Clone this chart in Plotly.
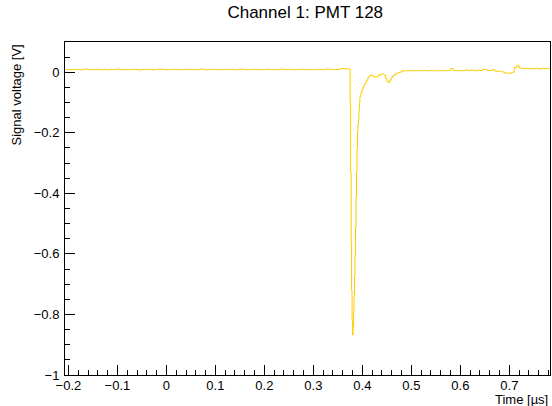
import numpy as np
import plotly.graph_objects as go

# ---- data (mV values) ----
pre_t0, pre_dt = -0.205, 0.005          # pre-pulse sampling grid (µs)
pre_mv = [8, 9, 8, 10, 9, 9, 8, 9, 11, 9, 8, 9, 9, 10, 8, 9, 9, 8, 10, 9,
          9, 11, 8, 9, 9, 8, 9, 10, 9, 9, 7, 9, 9, 10, 9, 8, 9, 9, 11, 9,
          9, 8, 9, 9, 10, 9, 9, 8, 9, 9, 10, 8, 9, 9, 9, 11, 9, 8, 9, 9,
          10, 9, 9, 8, 9, 9, 9, 10, 9, 8, 9, 11, 9, 9, 8, 9, 10, 9, 9, 9,
          8, 9, 10, 9, 9, 8, 9, 9, 11, 9, 9, 10, 9, 8, 9, 9, 10, 9, 9, 9,
          8, 9, 9, 10, 9, 9, 11, 10, 10, 9, 9, 10, 12, 11, 12, 11]

pulse_t = [0.372, 0.374, 0.375, 0.376, 0.377, 0.378, 0.379, 0.380, 0.381, 0.382,
           0.383, 0.384, 0.385, 0.386, 0.387, 0.388, 0.389, 0.390, 0.391, 0.392,
           0.393, 0.394, 0.395, 0.397, 0.399, 0.401, 0.403, 0.405, 0.408, 0.411,
           0.414, 0.417, 0.420, 0.423, 0.426, 0.429, 0.432, 0.435, 0.438, 0.441,
           0.444, 0.447, 0.450, 0.453, 0.456, 0.459, 0.462, 0.466, 0.470, 0.474,
           0.478, 0.482]
pulse_mv = [11, 11, -100, -330, -560, -720, -820, -868, -840, -790,
            -740, -670, -604, -510, -415, -330, -255, -195, -172, -155,
            -125, -100, -80, -68, -58, -50, -44, -37, -27, -18,
            -11, -9, -12, -15, -16, -15, -11, -7, -6, -6,
            -9, -20, -30, -34, -26, -17, -11, -6, -3, -1,
            2, 5]

post_t0, post_dt = 0.485, 0.005         # post-pulse sampling grid (µs)
post_mv = [5, 5, 6, 5, 5, 6, 5, 5, 6, 5, 5, 6, 5, 5, 5, 6, 5, 5, 6, 12,
           6, 5, 6, 5, 6, 8, 6, 7, 6, 5, 7, 6, 10, 9, 6, 6, 9, 4, 3, 3,
           1, -2, -3, -3, 0, 16, 22, 14, 13, 12, 13, 11, 13, 12, 13, 11, 13, 12, 12, 13,
           12]

title_text = "Channel 1: PMT 128"
x_title = "Time [µs]"
y_title = "Signal voltage [V]"
x_range = [-0.207, 0.783]
y_range = [-1.0, 0.1]

# ---- assemble trace ----
pre_t = np.round(pre_t0 + pre_dt * np.arange(len(pre_mv)), 4)
post_t = np.round(post_t0 + post_dt * np.arange(len(post_mv)), 4)
t = np.concatenate([pre_t, pulse_t, post_t])
v = np.concatenate([pre_mv, pulse_mv, post_mv]) / 1000.0

FONT = "Liberation Sans, Arial, Helvetica, sans-serif"

fig = go.Figure()
fig.add_trace(go.Scatter(x=t, y=v, mode="lines", line=dict(color="#ffcc00", width=1, shape="hv"),
                         showlegend=False, hoverinfo="skip"))

fig.update_layout(
    width=552, height=406,
    margin=dict(l=65, r=2, t=42, b=31),
    paper_bgcolor="white", plot_bgcolor="white",
    font=dict(family=FONT, size=13, color="black"),
    title=dict(text=title_text, x=0.553, xref="container", xanchor="center",
               y=1 - 12 / 406, yref="container", yanchor="middle",
               font=dict(family=FONT, size=17, color="black")),
)
fig.update_xaxes(range=x_range, showgrid=False, zeroline=False,
                 showline=True, linecolor="black", linewidth=1, mirror=True,
                 ticks="inside", ticklen=10, tickcolor="black", tickwidth=1,
                 tick0=0, dtick=0.1, tickfont=dict(size=13), ticklabelstandoff=-2,
                 minor=dict(ticks="inside", ticklen=5, tick0=0, dtick=0.02, tickcolor="black", showgrid=False))
fig.update_yaxes(range=y_range, showgrid=False, zeroline=False,
                 showline=True, linecolor="black", linewidth=1, mirror=True,
                 ticks="inside", ticklen=10, tickcolor="black", tickwidth=1,
                 tick0=0, dtick=0.2, tickfont=dict(size=13), ticklabelstandoff=2,
                 minor=dict(ticks="inside", ticklen=5, tick0=0, dtick=0.05, tickcolor="black", showgrid=False))

fig.add_annotation(text=x_title, xref="paper", yref="paper", x=1.0, y=-0.074,
                   xanchor="right", yanchor="middle", showarrow=False,
                   font=dict(family=FONT, size=13, color="black"))
fig.add_annotation(text=y_title, xref="paper", yref="paper", x=-0.099, y=1.0,
                   xanchor="center", yanchor="top", textangle=-90, showarrow=False,
                   font=dict(family=FONT, size=13, color="black"))

fig.write_html("out.html")
